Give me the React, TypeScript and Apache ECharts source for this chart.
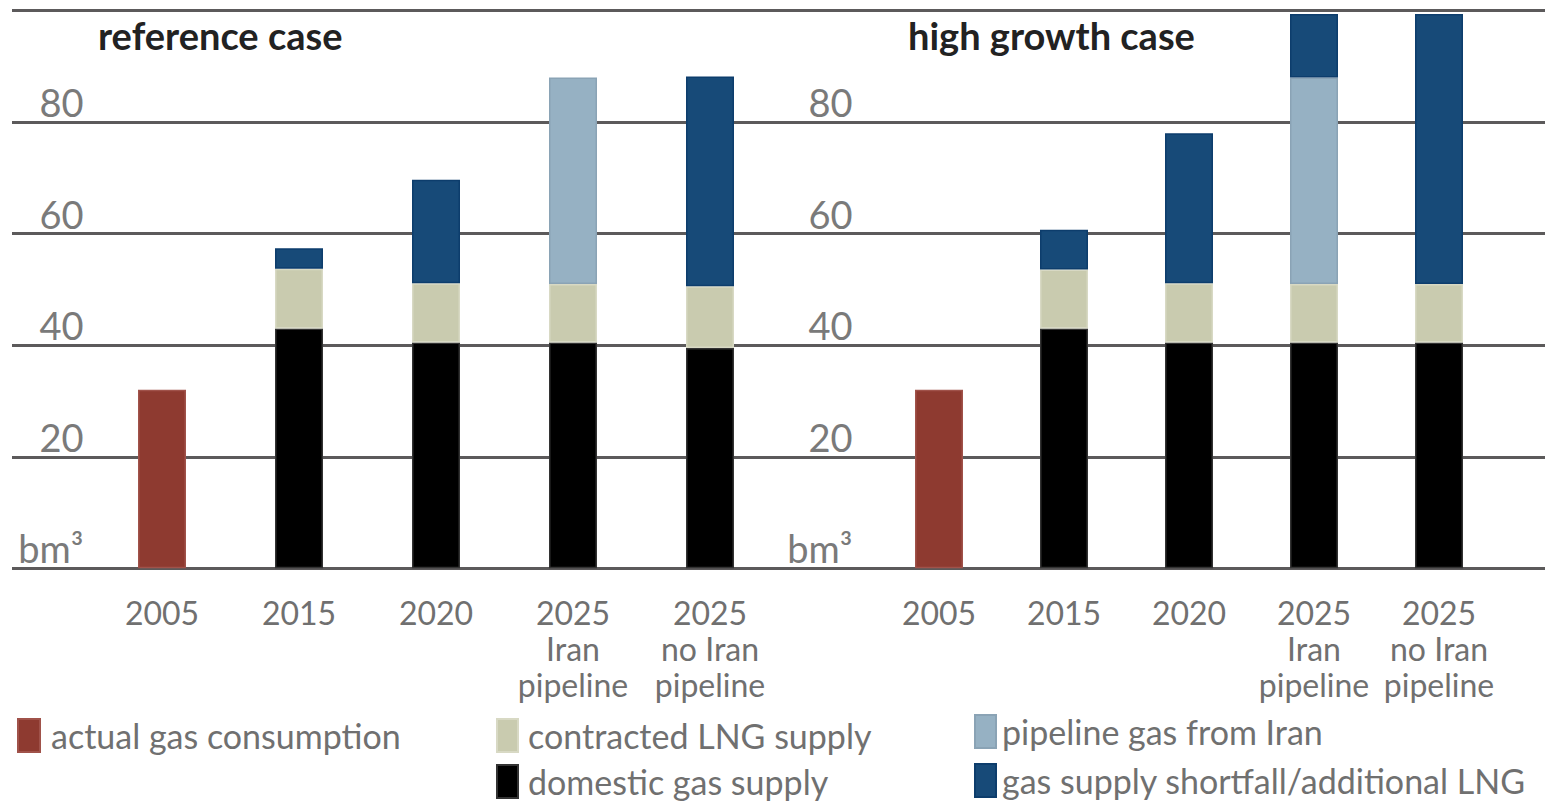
import React, { useEffect, useRef } from "react";
import * as echarts from "echarts";

const categories = ["2005", "2015", "2020", "2025\nIran\npipeline", "2025\nno Iran\npipeline"];
const yTicks = [0, 20, 40, 60, 80, 100];

const refActual = [32, null, null, null, null];
const refDomestic = [null, 43, 40.5, 40.5, 39.5];
const refLNG = [null, 10.7, 10.6, 10.5, 11.1];
const refIran = [null, null, null, 37, null];
const refShortfall = [null, 3.7, 18.6, null, 37.6];

const highActual = [32, null, null, null, null];
const highDomestic = [null, 43, 40.5, 40.5, 40.5];
const highLNG = [null, 10.6, 10.6, 10.5, 10.5];
const highIran = [null, null, null, 37, null];
const highShortfall = [null, 7.1, 26.9, 11.4, 48.4];

const NAMES = {
  actual: "actual gas consumption",
  lng: "contracted LNG supply",
  domestic: "domestic gas supply",
  iran: "pipeline gas from Iran",
  shortfall: "gas supply shortfall/additional LNG",
};

const COLORS = {
  actual: "#8e3a30",
  lng: "#c9cbaf",
  domestic: "#000000",
  iran: "#96b1c3",
  shortfall: "#174a78",
};
const BORDERS = {
  actual: "#a0524a",
  lng: "#d8d9c4",
  domestic: "#333333",
  iran: "#8aa3b5",
  shortfall: "#0d3d6c",
};

const FONT = "Lato, 'Open Sans', sans-serif";
const GRID_TOP = 10.7;
const GRID_H = 557.6;

function barSeries(key: keyof typeof NAMES, data: (number | null)[], idx: number) {
  return {
    type: "bar",
    name: NAMES[key],
    xAxisIndex: idx,
    yAxisIndex: idx,
    stack: "s" + idx,
    data: data.map((v) => (v === null ? "-" : v)),
    barWidth: 48,
    itemStyle: { color: COLORS[key], borderColor: BORDERS[key], borderWidth: 1.5 },
  };
}

export default function App() {
  const ref = useRef<HTMLDivElement>(null);
  useEffect(() => {
    if (!ref.current) return;
    const chart = echarts.init(ref.current, undefined, { renderer: "svg" });
    const yLabel = (margin: number) => ({
      show: true,
      margin,
      color: "#7a7a7a",
      fontSize: 38,
      lineHeight: 40,
      fontFamily: FONT,
      verticalAlign: "middle",
      formatter: (v: number) => (v === 0 ? "bm³\n " : v === 100 ? "" : String(v) + "\n "),
    });
    const xCat = (gridIndex: number) => ({
      type: "category",
      gridIndex,
      data: categories,
      axisLine: { show: false },
      axisTick: { show: false },
      axisLabel: {
        margin: 26,
        color: "#707070",
        fontSize: 32,
        lineHeight: 36,
        fontFamily: FONT,
        interval: 0,
      },
    });
    const yVal = (gridIndex: number, margin: number) => ({
      type: "value",
      gridIndex,
      min: 0,
      max: 100,
      interval: 20,
      splitLine: { show: false },
      axisLine: { show: false },
      axisTick: { show: false },
      axisLabel: yLabel(margin),
    });
    const mkLegend = (name: string, left: number, top: number, w: number, pad: number) => ({
      left,
      top,
      icon: "rect",
      itemWidth: w,
      itemHeight: 33,
      data: [name],
      textStyle: { color: "#707070", fontSize: 34, fontFamily: FONT, padding: [0, 0, 0, pad] },
      selectedMode: false,
    });
    const option = {
      animation: false,
      backgroundColor: "#ffffff",
      title: [
        {
          text: "reference case",
          left: 93,
          top: 11,
          textStyle: { fontSize: 38, fontWeight: "bold", color: "#222", fontFamily: FONT },
        },
        {
          text: "high growth case",
          left: 903,
          top: 11,
          textStyle: { fontSize: 38, fontWeight: "bold", color: "#222", fontFamily: FONT },
        },
      ],
      legend: [
        mkLegend(NAMES.actual, 12, 713, 22, 6),
        mkLegend(NAMES.lng, 491, 713, 21, 5),
        mkLegend(NAMES.domestic, 491, 759, 21, 5),
        mkLegend(NAMES.iran, 969, 709, 21, 1),
        mkLegend(NAMES.shortfall, 969, 758, 21, 1),
      ],
      grid: [
        { left: 12, right: 0, top: GRID_TOP, height: GRID_H },
        { left: 93.5, width: 685, top: GRID_TOP, height: GRID_H },
        { left: 876.5, width: 625, top: GRID_TOP, height: GRID_H },
      ],
      xAxis: [
        { type: "value", gridIndex: 0, show: false, min: 0, max: 1 },
        xCat(1),
        xCat(2),
      ],
      yAxis: [
        {
          type: "value",
          gridIndex: 0,
          min: yTicks[0],
          max: yTicks[yTicks.length - 1],
          interval: 20,
          axisLabel: { show: false },
          axisLine: { show: false },
          axisTick: { show: false },
          splitLine: { show: true, lineStyle: { color: "#5c5a5b", width: 3 } },
        },
        yVal(1, 10),
        yVal(2, 24),
      ],
      series: [
        barSeries("actual", refActual, 1),
        barSeries("domestic", refDomestic, 1),
        barSeries("lng", refLNG, 1),
        barSeries("iran", refIran, 1),
        barSeries("shortfall", refShortfall, 1),
        barSeries("actual", highActual, 2),
        barSeries("domestic", highDomestic, 2),
        barSeries("lng", highLNG, 2),
        barSeries("iran", highIran, 2),
        barSeries("shortfall", highShortfall, 2),
      ],
    };
    chart.setOption(option as any);
    return () => chart.dispose();
  }, []);
  return (
    <div
      ref={ref}
      style={{ position: "fixed", left: 0, top: 0, width: 1545, height: 803 }}
    />
  );
}
